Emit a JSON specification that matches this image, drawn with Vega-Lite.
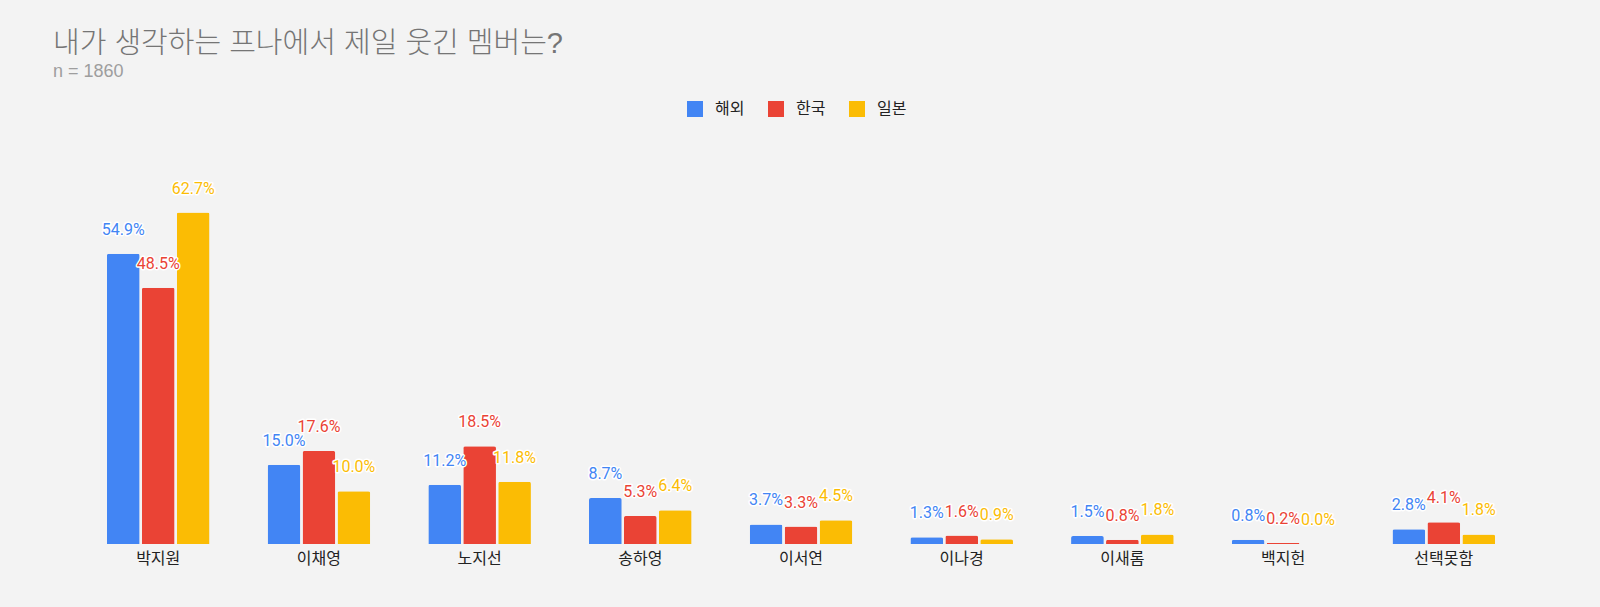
{
  "$schema": "https://vega.github.io/schema/vega-lite/v6.json",
  "autosize": {"type": "none"},
  "width": 1446,
  "height": 370,
  "padding": {"left": 78, "top": 174, "right": 76, "bottom": 63},
  "background": "#f3f3f3",
  "title": {
    "text": "내가 생각하는 프나에서 제일 웃긴 멤버는?",
    "subtitle": "n = 1860",
    "anchor": "start",
    "frame": "group",
    "dx": -25,
    "font": "Liberation Sans, Noto Sans CJK KR",
    "fontSize": 29,
    "fontWeight": 300,
    "color": "#757575",
    "subtitleFont": "Liberation Sans, Noto Sans CJK KR",
    "subtitleFontSize": 18,
    "subtitleColor": "#9e9e9e",
    "subtitlePadding": 4,
    "offset": 20
  },
  "config": {
    "view": {"stroke": null},
    "font": "Roboto, Noto Sans CJK KR"
  },
  "data": {
    "values": [
      {"member": "박지원", "region": "해외", "share": 0.549},
      {"member": "박지원", "region": "한국", "share": 0.485},
      {"member": "박지원", "region": "일본", "share": 0.627},
      {"member": "이채영", "region": "해외", "share": 0.150},
      {"member": "이채영", "region": "한국", "share": 0.176},
      {"member": "이채영", "region": "일본", "share": 0.100},
      {"member": "노지선", "region": "해외", "share": 0.112},
      {"member": "노지선", "region": "한국", "share": 0.185},
      {"member": "노지선", "region": "일본", "share": 0.118},
      {"member": "송하영", "region": "해외", "share": 0.087},
      {"member": "송하영", "region": "한국", "share": 0.053},
      {"member": "송하영", "region": "일본", "share": 0.064},
      {"member": "이서연", "region": "해외", "share": 0.037},
      {"member": "이서연", "region": "한국", "share": 0.033},
      {"member": "이서연", "region": "일본", "share": 0.045},
      {"member": "이나경", "region": "해외", "share": 0.013},
      {"member": "이나경", "region": "한국", "share": 0.016},
      {"member": "이나경", "region": "일본", "share": 0.009},
      {"member": "이새롬", "region": "해외", "share": 0.015},
      {"member": "이새롬", "region": "한국", "share": 0.008},
      {"member": "이새롬", "region": "일본", "share": 0.018},
      {"member": "백지헌", "region": "해외", "share": 0.008},
      {"member": "백지헌", "region": "한국", "share": 0.002},
      {"member": "백지헌", "region": "일본", "share": 0.000},
      {"member": "선택못함", "region": "해외", "share": 0.028},
      {"member": "선택못함", "region": "한국", "share": 0.041},
      {"member": "선택못함", "region": "일본", "share": 0.018}
    ]
  },
  "encoding": {
    "x": {
      "field": "member",
      "type": "nominal",
      "sort": null,
      "scale": {"paddingInner": 0.3615, "paddingOuter": 0.18},
      "axis": {
        "title": null,
        "domain": false,
        "ticks": false,
        "labelAngle": 0,
        "labelFontSize": 16,
        "labelColor": "#222222",
        "labelPadding": 6
      }
    },
    "xOffset": {
      "field": "region",
      "type": "nominal",
      "sort": ["해외", "한국", "일본"],
      "scale": {"paddingInner": 0.064}
    },
    "y": {
      "field": "share",
      "type": "quantitative",
      "scale": {"domain": [0, 0.7]},
      "axis": null
    },
    "color": {
      "field": "region",
      "type": "nominal",
      "sort": ["해외", "한국", "일본"],
      "scale": {
        "domain": ["해외", "한국", "일본"],
        "range": ["#4285f4", "#ea4335", "#fbbc04"]
      },
      "legend": {
        "title": null,
        "orient": "none",
        "direction": "horizontal",
        "legendX": 609,
        "legendY": -73,
        "symbolType": "square",
        "symbolSize": 256,
        "symbolStrokeWidth": 0,
        "labelFontSize": 16,
        "labelColor": "#222222",
        "labelOffset": 12,
        "columnPadding": 23
      }
    }
  },
  "layer": [
    {
      "mark": {"type": "bar", "cornerRadiusTopLeft": 2, "cornerRadiusTopRight": 2}
    },
    {
      "mark": {"type": "text", "baseline": "alphabetic", "dy": -19, "fontSize": 16, "stroke": "#ffffff", "strokeWidth": 3, "strokeJoin": "round"},
      "encoding": {
        "text": {"field": "share", "type": "quantitative", "format": ".1%"}
      }
    },
    {
      "mark": {"type": "text", "baseline": "alphabetic", "dy": -19, "fontSize": 16},
      "encoding": {
        "text": {"field": "share", "type": "quantitative", "format": ".1%"}
      }
    }
  ]
}
